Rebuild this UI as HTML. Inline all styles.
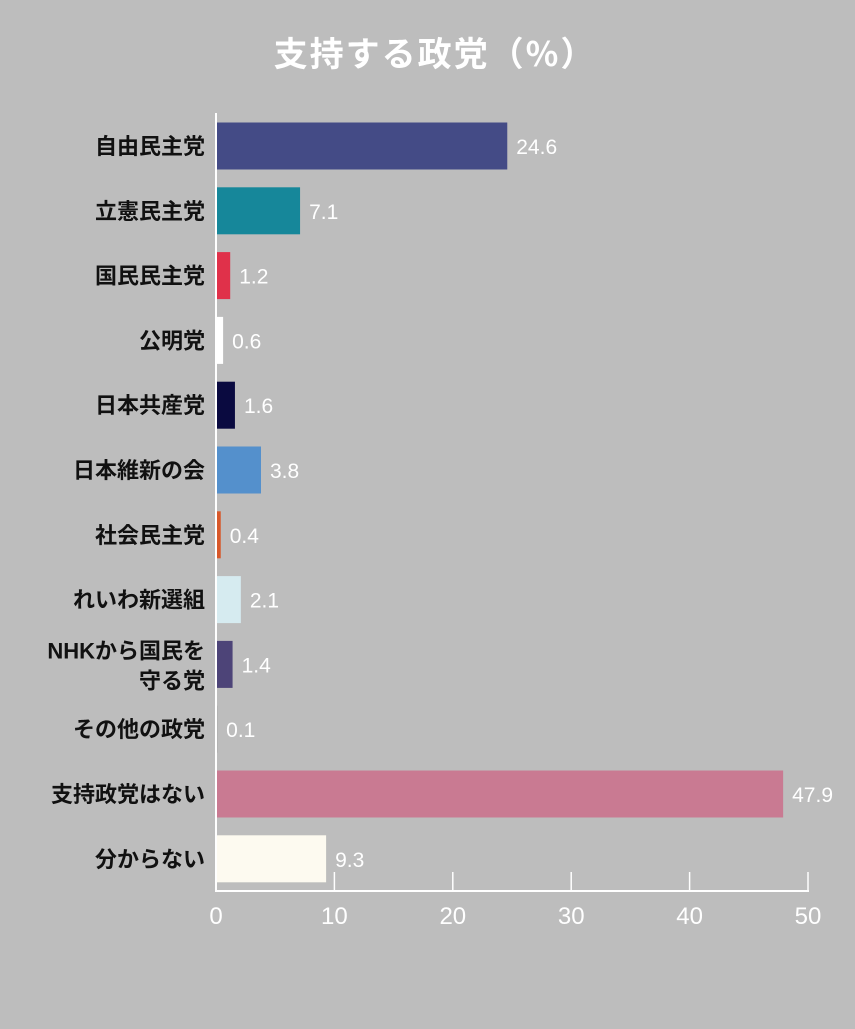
<!DOCTYPE html>
<html><head><meta charset="utf-8"><style>
body{margin:0;width:855px;height:1024px;background:#bdbdbd;overflow:hidden;font-family:"Liberation Sans","Noto Sans CJK JP",sans-serif}
</style></head><body>
<svg id="c" width="855" height="1024" xmlns="http://www.w3.org/2000/svg">
<text x="435" y="66" text-anchor="middle" fill="#fff" font-size="34" font-weight="bold" font-family="Noto Sans CJK JP, sans-serif" letter-spacing="2">支持する政党（%）</text>
</svg>
<script>
const categories=[["自由民主党"],["立憲民主党"],["国民民主党"],["公明党"],["日本共産党"],["日本維新の会"],["社会民主党"],["れいわ新選組"],["NHKから国民を","守る党"],["その他の政党"],["支持政党はない"],["分からない"]];
const values=[24.6,7.1,1.2,0.6,1.6,3.8,0.4,2.1,1.4,0.1,47.9,9.3];
const valueLabels=["24.6","7.1","1.2","0.6","1.6","3.8","0.4","2.1","1.4","0.1","47.9","9.3"];
const colors=["#444b86","#16879a","#e0314a","#ffffff","#0a0a40","#5490cc","#d8582a","#d6ebf0","#4d4478","#888888","#c97a92","#fdfaf0"];
const ticks=[0,10,20,30,40,50];
const NS="http://www.w3.org/2000/svg";
const svg=document.getElementById('c');
const x=v=>216+v*(808-216)/50;
const yc=i=>146+i*64.8;
function mk(t,a){const e=document.createElementNS(NS,t);for(const k in a)e.setAttribute(k,a[k]);svg.appendChild(e);return e;}
values.forEach((v,i)=>{
  const r=mk('rect',{x:x(0),y:yc(i)-23.5,width:x(v)-x(0),height:47,fill:colors[i]});
  
  
  const t=mk('text',{x:x(v)+9,y:yc(i)+8,fill:'#fff','font-size':21});
  t.textContent=valueLabels[i];
  
  
  const lines=categories[i];
  const l=mk('text',{x:205,y:yc(i)+8-(lines.length-1)*14,'text-anchor':'end',fill:'#111','font-size':22,'font-weight':'bold'});
  
  
  lines.forEach((s,j)=>{const ts=document.createElementNS(NS,'tspan');ts.setAttribute('x',205);if(j)ts.setAttribute('dy',30);ts.textContent=s;l.appendChild(ts);});
});
const ax=mk('line',{x1:216,y1:113,x2:216,y2:891,stroke:'#fff','stroke-width':2});


const bx=mk('line',{x1:215,y1:891,x2:809,y2:891,stroke:'#fff','stroke-width':2});


ticks.forEach(t=>{
  const tk=mk('line',{x1:x(t),y1:872,x2:x(t),y2:891,stroke:'#fff','stroke-width':1.5});
  
  
  const tl=mk('text',{x:x(t),y:924,'text-anchor':'middle',fill:'#fff','font-size':24});
  tl.textContent=t;
  
  
});
</script>
</body></html>
